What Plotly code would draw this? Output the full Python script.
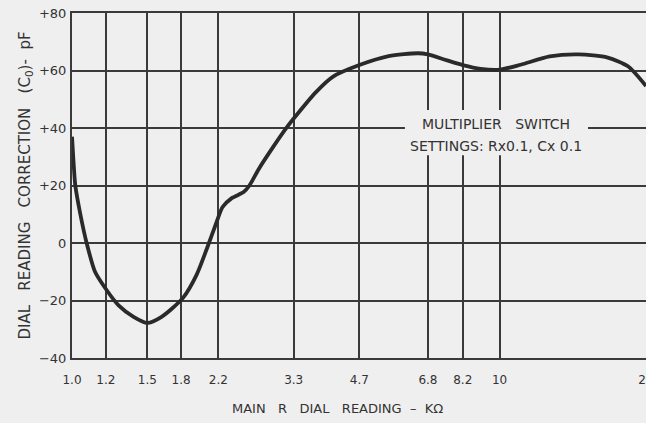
import plotly.graph_objects as go
import math

# Curve data (main R dial reading kΩ, correction pF)
dial_kohm = [1.0, 1.008, 1.018, 1.046, 1.082, 1.132, 1.2, 1.285, 1.393, 1.5, 1.62, 1.82,
             1.957, 2.067, 2.18, 2.25, 2.364, 2.52, 2.60, 2.73, 2.96, 3.16, 3.3,
             3.72, 4.08, 4.7, 5.5, 6.44, 6.8, 7.54, 8.2, 9.03, 10.0, 11.2, 13.1,
             15.3, 17.9, 20.0, 22.0]
correction_pf = [37, 28.5, 20, 10, 0, -10, -16, -21.7, -25.7, -27.8, -25.7, -19,
                 -11, -2, 7.4, 12.5, 15.6, 17.7, 20, 25.6, 33.6, 39.7, 43.3,
                 52.5, 57.9, 61.9, 65, 66, 65.6, 63.5, 61.9, 60.6, 60.3, 62, 64.9,
                 65.6, 64.5, 61.4, 54.6]

x_ticks = [1.0, 1.2, 1.5, 1.8, 2.2, 3.3, 4.7, 6.8, 8.2, 10, 22]
x_tick_text = ["1.0", "1.2", "1.5", "1.8", "2.2", "3.3", "4.7", "6.8", "8.2", "10", "22"]
y_ticks = [-40, -20, 0, 20, 40, 60, 80]
y_tick_text = ["\u221240", "\u221220", "0", "+20", "+40", "+60", "+80"]
note_lines = ["MULTIPLIER   SWITCH", "SETTINGS: Rx0.1, Cx 0.1"]

BG = "#efefef"
INK = "#333333"
FONT = "DejaVu Sans"

fig = go.Figure()
fig.add_trace(go.Scatter(
    x=dial_kohm, y=correction_pf, mode="lines",
    line=dict(color="#2a2a2a", width=3.8, shape="spline", smoothing=0.7),
    hoverinfo="skip", showlegend=False,
))

# background patch behind the note (interrupts grid lines as in the original)
fig.add_shape(type="rect", xref="paper", yref="paper",
              x0=0.580, x1=0.899, y0=0.588, y1=0.719,
              fillcolor=BG, line=dict(width=0), layer="above")
for txt, yp in zip(note_lines, [0.678, 0.614]):
    fig.add_annotation(
        xref="paper", yref="paper", x=0.739, y=yp, text=txt,
        showarrow=False, font=dict(family=FONT, size=14, color=INK),
        xanchor="center", yanchor="middle",
    )

fig.add_annotation(
    xref="paper", yref="paper", x=(337 - 72) / 574, y=-(408 - 358) / 345,
    text="MAIN   R   DIAL   READING  \u2013  K\u03a9",
    showarrow=False, font=dict(family=FONT, size=13, color=INK),
    xanchor="center", yanchor="middle",
)

fig.update_xaxes(
    type="log", range=[0, math.log10(22)], automargin=False,
    tickvals=x_ticks, ticktext=x_tick_text, ticklabeloverflow="allow",
    showgrid=True, gridcolor="#3a3a3a", gridwidth=1.8,
    showline=True, linecolor="#3a3a3a", linewidth=2, mirror=True,
    ticks="", ticklabelstandoff=10,
    tickfont=dict(family=FONT, size=12, color=INK),
    zeroline=False,
)
fig.update_yaxes(
    range=[-40, 80], automargin=False,
    tickvals=y_ticks, ticktext=y_tick_text,
    showgrid=True, gridcolor="#3a3a3a", gridwidth=1.8,
    showline=True, linecolor="#3a3a3a", linewidth=2,
    ticks="", ticklabelstandoff=1,
    tickfont=dict(family=FONT, size=13, color=INK),
    zeroline=False,
    title=dict(text="DIAL   READING   CORRECTION   (C<sub>0</sub>)-  pF",
               font=dict(family=FONT, size=15, color=INK), standoff=5),
)

fig.update_layout(
    width=646, height=423,
    margin=dict(l=72, r=0, t=13, b=65),
    paper_bgcolor=BG, plot_bgcolor=BG,
)

fig.write_html(
    "out.html",
    config={"displayModeBar": False},
    post_script="document.body.style.margin='0';document.body.style.background='#efefef';",
)
